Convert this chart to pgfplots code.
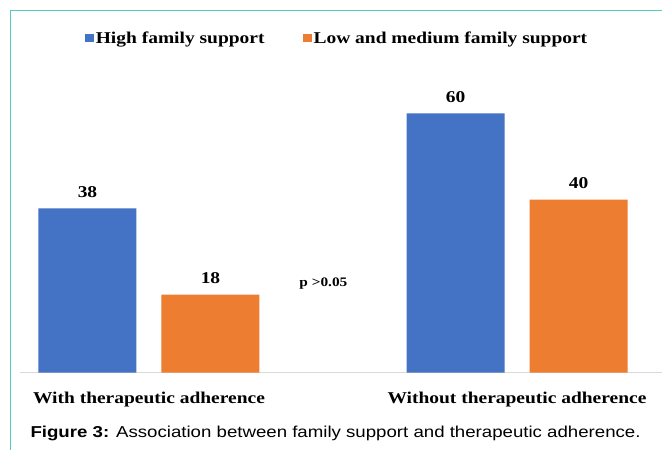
\documentclass[border=0pt]{standalone}
\usepackage{fontspec}
\usepackage{pgfplots}
\pgfplotsset{compat=1.18}
\newfontfamily\chartfam[FakeStretch=1.18]{Liberation Serif}
\newfontfamily\capfam[FakeStretch=1.18]{Liberation Sans}
\newcommand\chartfont{\chartfam\bfseries\fontsize{16.5bp}{19bp}\selectfont}
\newcommand\pfont{\chartfam\bfseries\fontsize{13bp}{15bp}\selectfont}
\newcommand\capfont{\capfam\fontsize{15.8bp}{18bp}\selectfont}
\definecolor{barblue}{HTML}{4472C4}
\definecolor{barorange}{HTML}{ED7D31}
\definecolor{gridgray}{HTML}{D9D9D9}
\definecolor{framec}{RGB}{80,206,186}
\begin{document}
\begin{tikzpicture}
\useasboundingbox (0,0) rectangle (662bp,450bp);
\fill[white] (0,0) rectangle (662bp,450bp);
\draw[framec, line width=1.5bp] (10.5bp,-5bp) -- (10.5bp,439.5bp) -- (670bp,439.5bp);
\begin{axis}[
  at={(20bp,77.5bp)}, anchor=south west,
  scale only axis, width=642bp, height=302.4bp,
  xmin=-0.3505, xmax=1.394, ymin=0, ymax=70,
  ybar=25bp, bar width=98bp,
  axis x line=bottom, axis y line=none,
  x axis line style={-, draw=gridgray, line width=1bp},
  xtick={0,1},
  xticklabels={With therapeutic adherence, Without therapeutic adherence},
  major tick length=0pt,
  xticklabel style={font=\chartfont, anchor=base, yshift=-30.8bp},
  ytick=\empty,
  nodes near coords,
  nodes near coords style={font=\chartfont, anchor=center, yshift=16.6bp, text=black,
    /pgf/number format/assume math mode=true},
  legend style={at={(0.4938,1.106)}, anchor=center, legend columns=2, draw=none, fill=none,
    font=\chartfont, /tikz/every even column/.append style={column sep=36bp}},
  legend image code/.code={\fill[#1] (0bp,-4bp) rectangle (9bp,4bp);},
  clip=false,
]
\addplot[fill=barblue, draw=none] coordinates {(0,38) (1,60)};
\addplot[fill=barorange, draw=none] coordinates {(0,18) (1,40)};
\legend{High family support, Low and medium family support}
\node[font=\pfont] at (axis cs:0.474,20.7) {p >0.05};
\end{axis}
\node[anchor=base west, font=\capfont] at (27bp,13bp) {\textbf{Figure 3:} Association between family support and therapeutic adherence.};
\end{tikzpicture}
\end{document}
